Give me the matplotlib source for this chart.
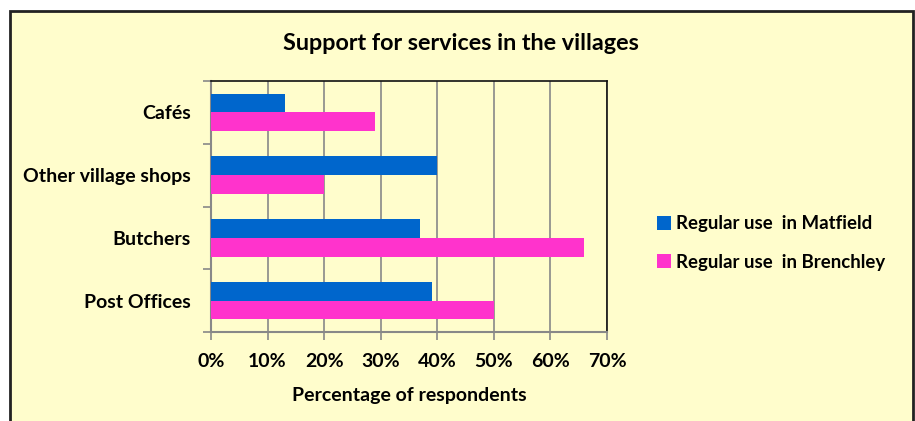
import matplotlib
matplotlib.use("Agg")
import matplotlib.pyplot as plt
from matplotlib.patches import Rectangle
import numpy as np

categories = ["Post Offices", "Butchers", "Other village shops", "Cafés"]
matfield = [39, 37, 40, 13]
brenchley = [50, 66, 20, 29]
series_names = ["Regular use  in Matfield", "Regular use  in Brenchley"]
xticks = [0, 10, 20, 30, 40, 50, 60, 70]
xtick_labels = ["0%", "10%", "20%", "30%", "40%", "50%", "60%", "70%"]

plt.rcParams['font.family'] = ['Lato', 'DejaVu Sans']
plt.rcParams['font.weight'] = 'bold'

W, H = 915, 421
fig = plt.figure(figsize=(W / 100, H / 100), dpi=100)
fig.patch.set_facecolor("white")
bg = "#FFFDCC"

bgax = fig.add_axes([0, 0, 1, 1], zorder=-1)
bgax.set_xlim(0, W)
bgax.set_ylim(H, 0)
bgax.axis("off")
bgax.add_patch(Rectangle((10, 11), 913 - 10, H + 20, facecolor=bg,
                         edgecolor="#222222", linewidth=2))

ax = fig.add_axes([211 / W, 1 - 332 / H, (607 - 211) / W, (332 - 81) / H], zorder=1)
ax.set_facecolor(bg)
y = np.arange(len(categories))
h = 0.30
ax.barh(y + h / 2, matfield, height=h, color="#0066CC", label=series_names[0], zorder=3)
ax.barh(y - h / 2, brenchley, height=h, color="#FF33CC", label=series_names[1], zorder=3)

fs = 14
ax.set_xlim(0, 70)
ax.set_ylim(-0.5, len(categories) - 0.5)
ax.set_xticks(xticks)
ax.set_xticklabels(xtick_labels, fontsize=fs, fontweight="bold")
ax.set_yticks(y)
ax.set_yticklabels(categories, fontsize=fs, fontweight="bold")
ax.tick_params(axis="y", length=0, pad=14.5)
ax.set_yticks(np.arange(-0.5, len(categories)), minor=True)
ax.tick_params(axis="y", which="minor", length=6, color="#888888", width=1.2)
ax.tick_params(axis="x", length=6, color="#888888", width=1.2, pad=9)
ax.grid(axis="x", color="#888888", linewidth=1.2, zorder=1)
for s in ["left", "bottom"]:
    ax.spines[s].set_color("#888888")
    ax.spines[s].set_linewidth(1.5)
for s in ["top", "right"]:
    ax.spines[s].set_color("#111111")
    ax.spines[s].set_linewidth(1.2)
ax.set_xlabel("Percentage of respondents", fontsize=fs, fontweight="bold", labelpad=12)

fig.text(461 / W, 1 - 44 / H, "Support for services in the villages", ha="center", va="center",
         fontsize=16.8, fontweight="bold")

handles, labels = ax.get_legend_handles_labels()
leg = fig.legend(handles, labels, loc="center left", bbox_to_anchor=(640 / W, 1 - 243 / H),
                 frameon=False, handlelength=0.75, handleheight=0.75,
                 handletextpad=0.3, labelspacing=1.15, prop={"weight": "bold", "size": 13.4})

fig.savefig("out.png", dpi=100, facecolor=fig.get_facecolor())
